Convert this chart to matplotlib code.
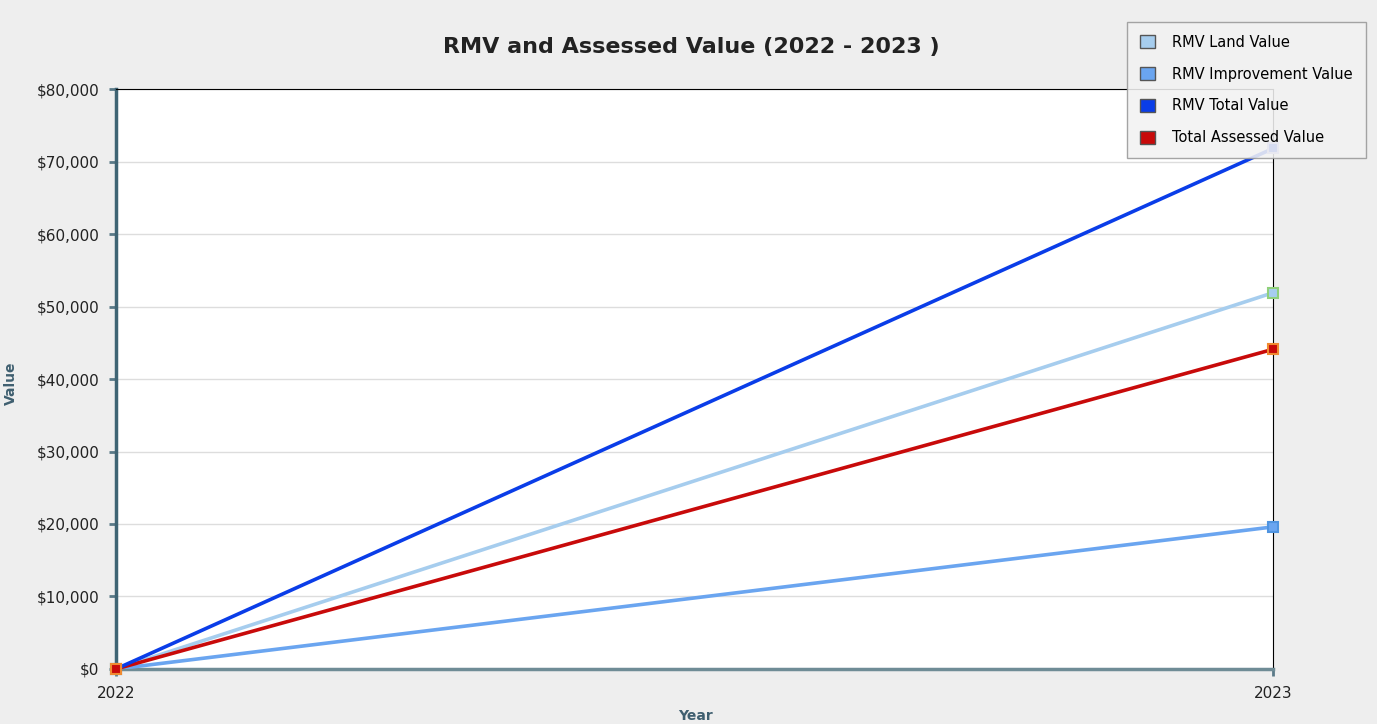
import matplotlib.pyplot as plt
from matplotlib.patches import Patch
from matplotlib.ticker import FuncFormatter

years = ['2022', '2023']
land = [0, 51900]
improvement = [0, 19600]
total = [0, 71800]
assessed = [0, 44100]

series = [
    ('RMV Land Value', land, '#a6cdee', '#8fd07a'),
    ('RMV Improvement Value', improvement, '#6aa5f0', '#4f94e0'),
    ('RMV Total Value', total, '#0a3de8', '#a9a9e6'),
    ('Total Assessed Value', assessed, '#c80a0a', '#f08a30'),
]

fig = plt.figure(figsize=(13.77, 7.24), dpi=100, facecolor='#eeeeee')
ax = fig.add_axes([0.0842, 0.076, 0.8403, 0.801])
ax.set_facecolor('white')

x = [0, 1]
# draw in order so the total line sits on top like the reference
for name, vals, col, edge in [series[1], series[0], series[3], series[2]]:
    ax.plot(x, vals, color=col, linewidth=2.6, solid_capstyle='butt', zorder=3)
for name, vals, col, edge in [series[2], series[1], series[0], series[3]]:
    ax.plot(x, vals, linestyle='none', marker='s', markersize=7.5,
            markerfacecolor=col, markeredgecolor=edge, markeredgewidth=1.5, zorder=4,
            clip_on=False)

ax.set_xlim(0, 1)
ax.set_ylim(0, 80000)
ax.set_xticks(x)
ax.set_xticklabels(years)
ax.set_yticks(range(0, 80001, 10000))
ax.yaxis.set_major_formatter(FuncFormatter(lambda v, p: '${:,.0f}'.format(v)))
ax.tick_params(labelsize=11, colors='#5a7a88', labelcolor='#222222', length=5, width=2, pad=7)
ax.grid(axis='y', color='#dddddd', linewidth=1)
ax.set_axisbelow(True)

ax.spines['left'].set_color('#3f6474')
ax.spines['left'].set_linewidth(2.5)
ax.spines['bottom'].set_color('#6f8c96')
ax.spines['bottom'].set_linewidth(2.5)
ax.spines['top'].set_color('black')
ax.spines['right'].set_color('black')

fig.text(0.502, 0.935, 'RMV and Assessed Value (2022 - 2023 )', ha='center', va='center',
         fontsize=16, fontweight='bold', color='#222222')
fig.text(0.008, 0.47, 'Value', rotation=90, ha='center', va='center',
         fontsize=10, fontweight='bold', color='#3f5f70')
fig.text(0.505, 0.001, 'Year', ha='center', va='bottom',
         fontsize=10, fontweight='bold', color='#3f5f70')

handles = [Patch(facecolor=c, edgecolor='#555555', label=n) for n, v, c, e in series]
leg = fig.legend(handles=handles, loc='upper right', bbox_to_anchor=(0.992, 0.970),
                 borderaxespad=0, fontsize=10.5, frameon=True, fancybox=False,
                 framealpha=0.88, edgecolor='#999999', facecolor='#f2f2f2',
                 handlelength=1.0, handleheight=1.0, borderpad=0.9, labelspacing=1.15,
                 handletextpad=1.2)
leg.get_frame().set_linewidth(1)

fig.savefig('out.png', dpi=100, facecolor=fig.get_facecolor())
